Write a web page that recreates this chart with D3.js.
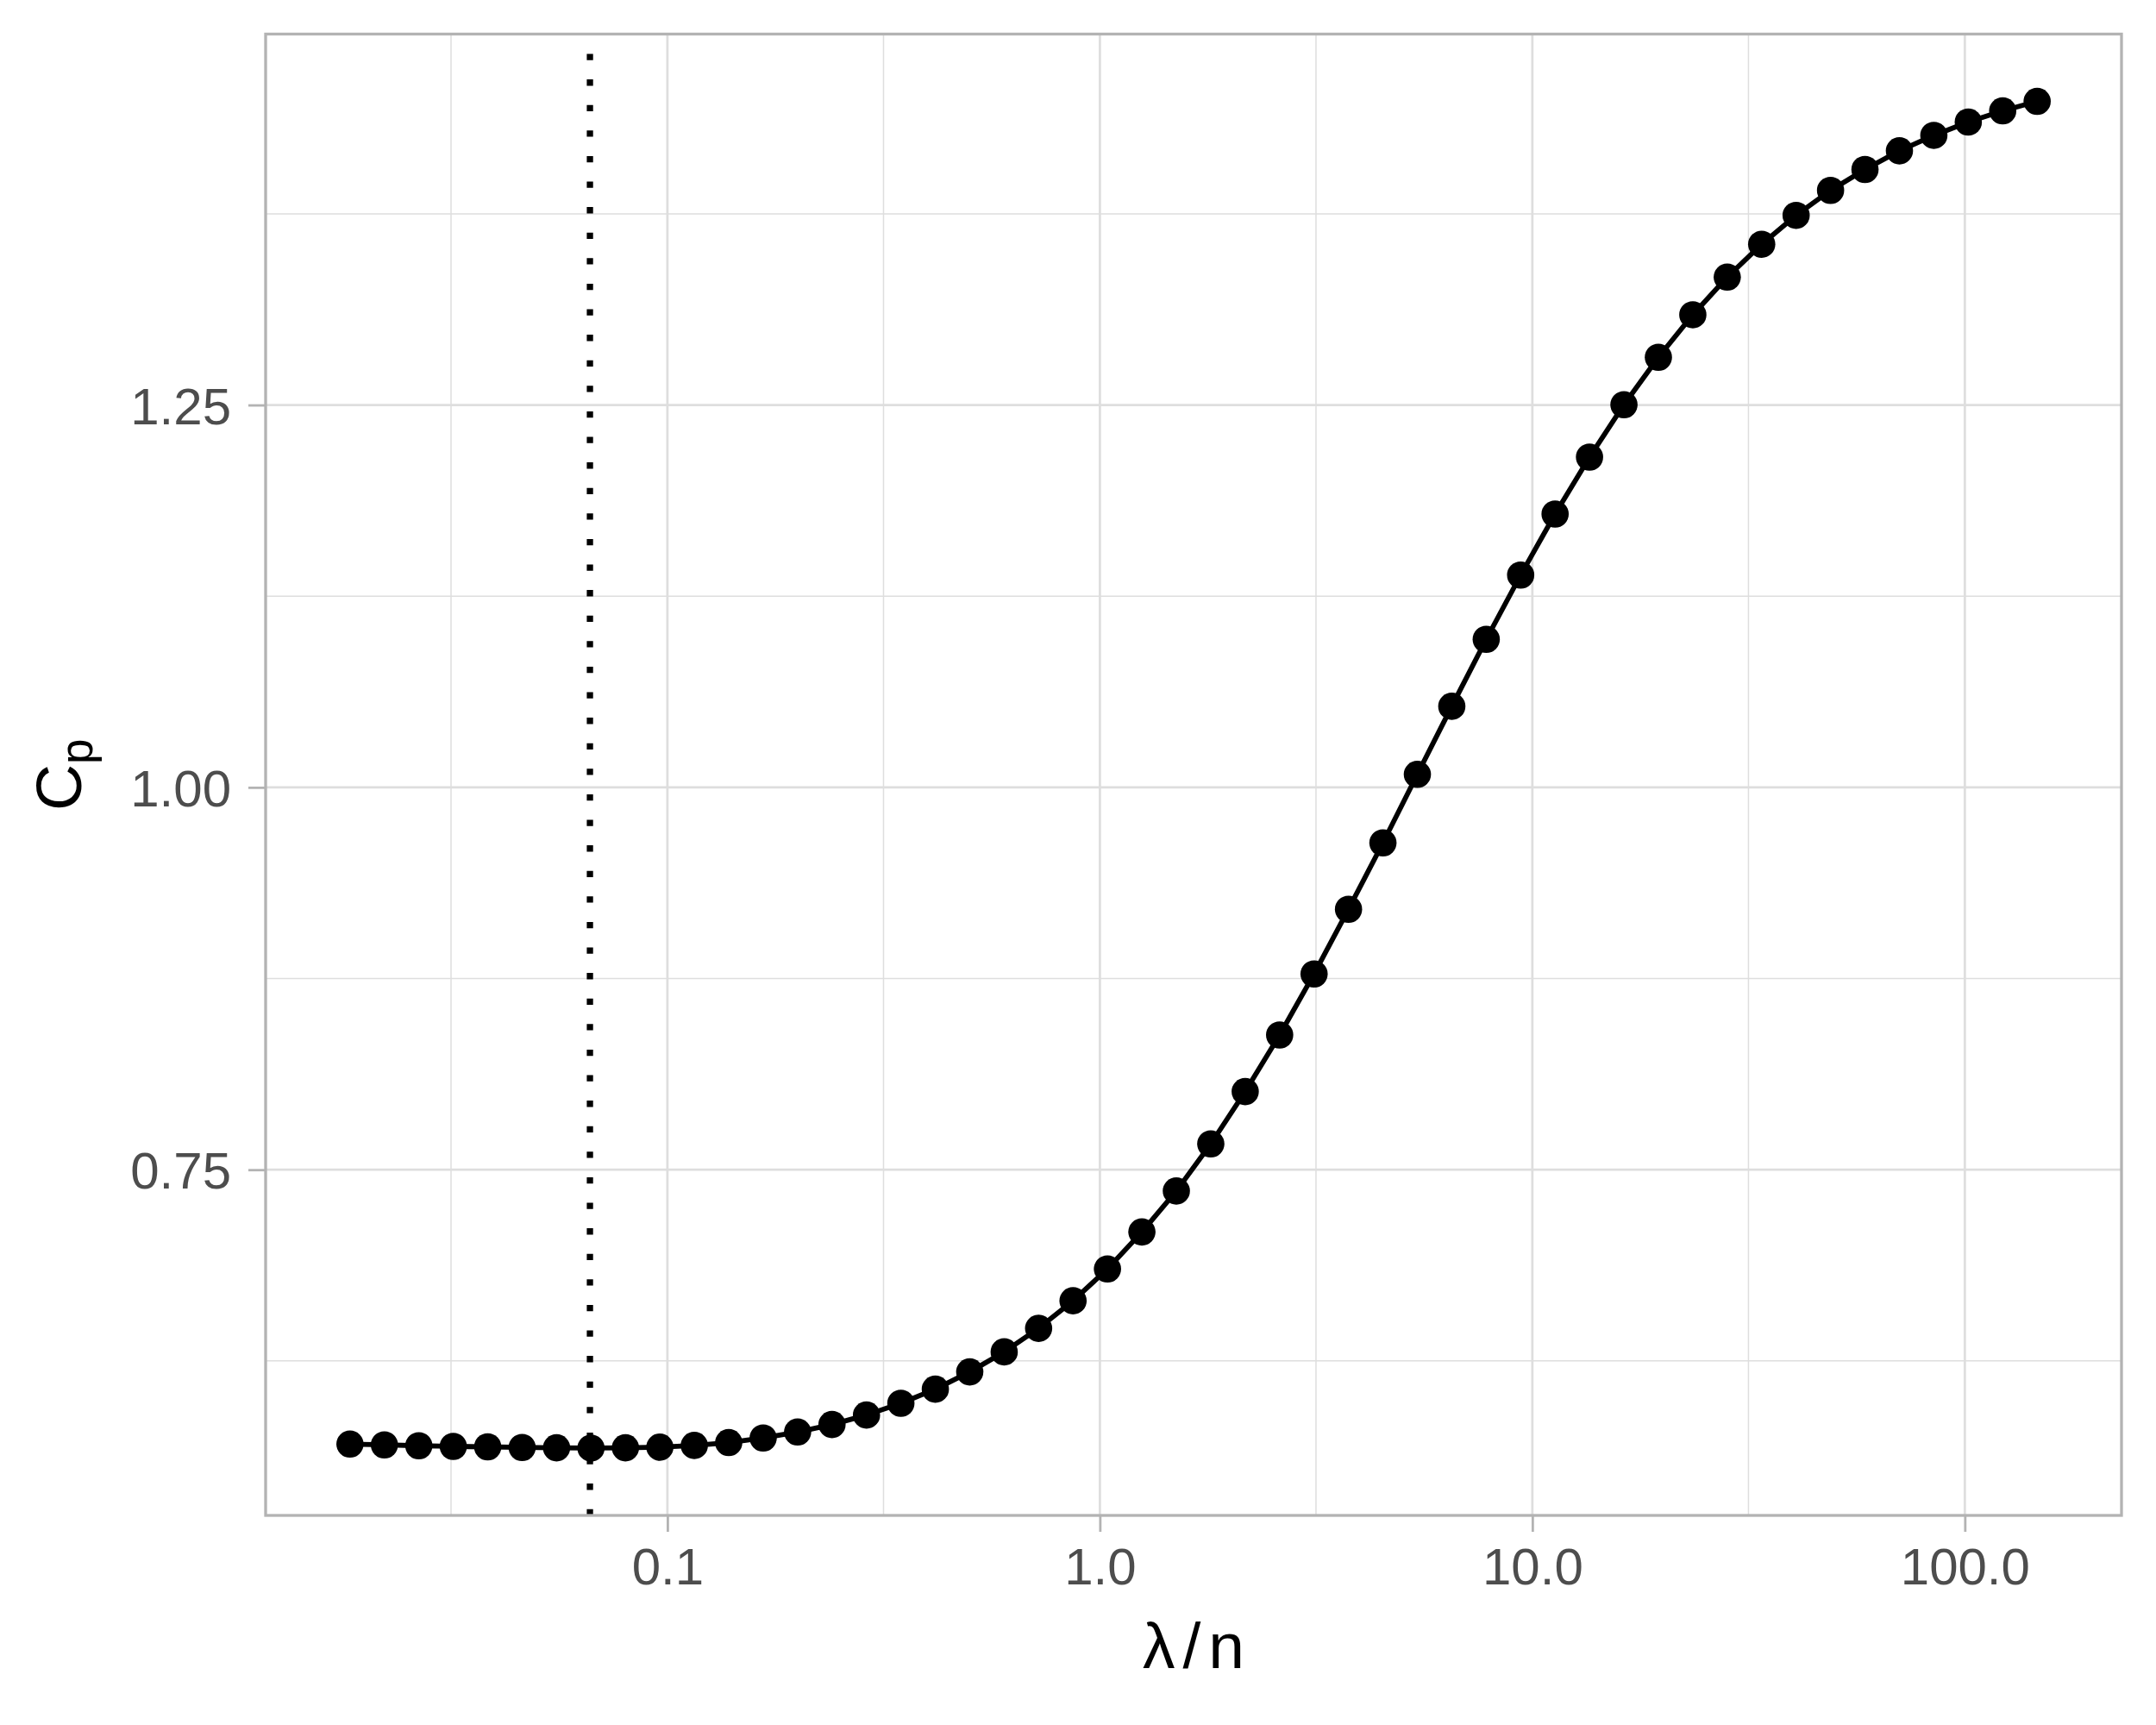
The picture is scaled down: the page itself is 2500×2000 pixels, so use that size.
<!DOCTYPE html>
<html>
<head>
<meta charset="utf-8">
<script src="https://cdn.jsdelivr.net/npm/d3@7"></script>
<style>
  html, body { margin: 0; padding: 0; background: #ffffff; }
  svg { display: block; }
</style>
</head>
<body>
<svg id="chart" width="2500" height="2000"></svg>
<script>
// ---- data ----
const lambdaN = [
  0.01845, 0.02216, 0.02662, 0.03198, 0.03841, 0.04614, 0.05542, 0.06657, 0.07997, 0.09606,
  0.1154, 0.1386, 0.1665, 0.2000, 0.2402, 0.2886, 0.3466, 0.4164, 0.5001, 0.6008,
  0.7216, 0.8668, 1.0412, 1.2507, 1.5024, 1.8047, 2.1678, 2.6040, 3.1279, 3.7572,
  4.5131, 5.4212, 6.5120, 7.8222, 9.3960, 11.286, 13.557, 16.285, 19.562, 23.498,
  28.226, 33.905, 40.727, 48.921, 58.765, 70.589, 84.791, 101.85, 122.34, 146.96
];
const cp = [
  0.5706, 0.5701, 0.5695, 0.5691, 0.5688, 0.5684, 0.5682, 0.5680, 0.5682, 0.5686,
  0.5697, 0.5716, 0.5746, 0.5785, 0.5834, 0.5896, 0.5973, 0.6065, 0.6178, 0.6309,
  0.6463, 0.6643, 0.6851, 0.7093, 0.7361, 0.7669, 0.8011, 0.8381, 0.8780, 0.9203,
  0.9637, 1.0085, 1.0530, 1.0968, 1.1388, 1.1787, 1.2159, 1.2502, 1.2812, 1.3090,
  1.3336, 1.3551, 1.3740, 1.3903, 1.4040, 1.4162, 1.4263, 1.4350, 1.4423, 1.4485
];
const lambdaOpt = 0.0662;
const xTicks = [0.1, 1, 10, 100];
const xTickLabels = ["0.1", "1.0", "10.0", "100.0"];
const xMinor = [0.0316, 0.316, 3.16, 31.6];
const yTicks = [0.75, 1.00, 1.25];
const yTickLabels = ["0.75", "1.00", "1.25"];
const yMinor = [0.625, 0.875, 1.125, 1.375];
const xTitleParts = ["λ", "/", "n"];
const yTitleMain = "C";
const yTitleSub = "p";

// ---- layout ----
const W = 2500, H = 2000;
const panel = { left: 308, right: 2460, top: 39.5, bottom: 1757 };
const font = "'Liberation Sans', Arial, Helvetica, sans-serif";

const svg = d3.select("#chart");
svg.append("rect").attr("width", W).attr("height", H).attr("fill", "#ffffff");

// expanded domains (5% like ggplot)
const lx = d3.extent(lambdaN).map(Math.log10);
const lspan = lx[1] - lx[0];
const xDomain = [Math.pow(10, lx[0] - 0.05 * lspan), Math.pow(10, lx[1] + 0.05 * lspan)];
const ye = d3.extent(cp);
const yspan = ye[1] - ye[0];
const yDomain = [ye[0] - 0.05 * yspan, ye[1] + 0.05 * yspan];

const x = d3.scaleLog().domain(xDomain).range([panel.left, panel.right]);
const y = d3.scaleLinear().domain(yDomain).range([panel.bottom, panel.top]);

// ---- grid ----
const grid = svg.append("g");
grid.selectAll(".xminor").data(xMinor).enter().append("line")
  .attr("x1", d => x(d)).attr("x2", d => x(d))
  .attr("y1", panel.top).attr("y2", panel.bottom)
  .attr("stroke", "#dedede").attr("stroke-width", 1.5);
grid.selectAll(".yminor").data(yMinor).enter().append("line")
  .attr("y1", d => y(d)).attr("y2", d => y(d))
  .attr("x1", panel.left).attr("x2", panel.right)
  .attr("stroke", "#dedede").attr("stroke-width", 1.5);
grid.selectAll(".xmajor").data(xTicks).enter().append("line")
  .attr("x1", d => x(d)).attr("x2", d => x(d))
  .attr("y1", panel.top).attr("y2", panel.bottom)
  .attr("stroke", "#dedede").attr("stroke-width", 2.8);
grid.selectAll(".ymajor").data(yTicks).enter().append("line")
  .attr("y1", d => y(d)).attr("y2", d => y(d))
  .attr("x1", panel.left).attr("x2", panel.right)
  .attr("stroke", "#dedede").attr("stroke-width", 2.8);

// ---- data line + points ----
const pts = lambdaN.map((v, i) => [v, cp[i]]);
svg.append("path")
  .datum(pts)
  .attr("fill", "none")
  .attr("stroke", "#000000")
  .attr("stroke-width", 5.8)
  .attr("stroke-linejoin", "round")
  .attr("d", d3.line().x(d => x(d[0])).y(d => y(d[1])));

svg.append("g").selectAll("circle").data(pts).enter().append("circle")
  .attr("cx", d => x(d[0])).attr("cy", d => y(d[1]))
  .attr("r", 15.8).attr("fill", "#000000");

// ---- vertical dotted line (drawn bottom to top) ----
svg.append("line")
  .attr("x1", x(lambdaOpt)).attr("x2", x(lambdaOpt))
  .attr("y1", panel.bottom).attr("y2", panel.top)
  .attr("stroke", "#000000").attr("stroke-width", 7.3)
  .attr("stroke-dasharray", "7.3 22.3")
  .attr("stroke-linecap", "butt");

// ---- panel border ----
svg.append("rect")
  .attr("x", panel.left).attr("y", panel.top)
  .attr("width", panel.right - panel.left).attr("height", panel.bottom - panel.top)
  .attr("fill", "none").attr("stroke", "#b3b3b3").attr("stroke-width", 3.3);

// ---- axes ----
const xAxis = d3.axisBottom(x)
  .tickValues(xTicks)
  .tickFormat((d, i) => xTickLabels[i])
  .tickSizeInner(19).tickSizeOuter(0).tickPadding(18);
const gx = svg.append("g").attr("transform", `translate(0,${panel.bottom})`).call(xAxis);
gx.select(".domain").remove();
gx.selectAll(".tick line").attr("stroke", "#b3b3b3").attr("stroke-width", 2.8);
gx.selectAll(".tick text")
  .attr("fill", "#4d4d4d").style("font-family", font).style("font-size", "60px");

const yAxis = d3.axisLeft(y)
  .tickValues(yTicks)
  .tickFormat((d, i) => yTickLabels[i])
  .tickSizeInner(20).tickSizeOuter(0).tickPadding(20);
const gy = svg.append("g").attr("transform", `translate(${panel.left},0)`).call(yAxis);
gy.select(".domain").remove();
gy.selectAll(".tick line").attr("stroke", "#b3b3b3").attr("stroke-width", 2.8);
gy.selectAll(".tick text")
  .attr("fill", "#4d4d4d").attr("dy", "0.36em")
  .style("font-family", font).style("font-size", "60px");

// ---- titles ----
const xt = svg.append("text")
  .attr("x", (panel.left + panel.right) / 2)
  .attr("y", 1934)
  .attr("text-anchor", "middle")
  .style("font-family", font).style("font-size", "75px")
  .attr("fill", "#000000");
xTitleParts.forEach((p, i) => {
  xt.append("tspan").attr("dx", i === 0 ? 0 : 9).text(p);
});

const yt = svg.append("text")
  .attr("transform", `translate(94,${(panel.top + panel.bottom) / 2}) rotate(-90)`)
  .attr("text-anchor", "middle")
  .style("font-family", font).style("font-size", "75px")
  .attr("fill", "#000000");
yt.append("tspan").text(yTitleMain);
yt.append("tspan").attr("dy", 13).style("font-size", "53px").text(yTitleSub);
</script>
</body>
</html>
